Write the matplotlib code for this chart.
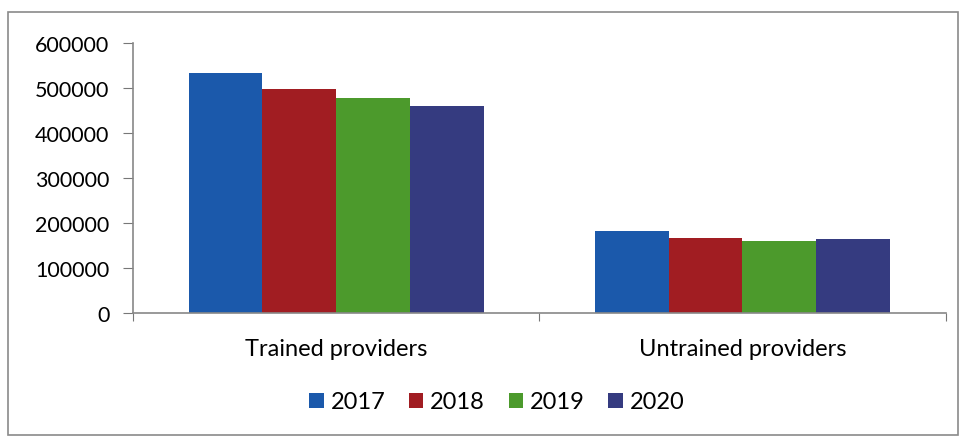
import numpy as np
import matplotlib.pyplot as plt
from matplotlib.patches import Rectangle

categories = ['Trained providers', 'Untrained providers']
years = ['2017', '2018', '2019', '2020']
values_2017 = [534000, 181000]
values_2018 = [497000, 167000]
values_2019 = [477000, 159000]
values_2020 = [460000, 164000]
colors = ['#1b59ab', '#a11d22', '#4c9a2c', '#353b80']

plt.rcParams['font.family'] = ['Lato', 'DejaVu Sans']

fig = plt.figure(figsize=(9.63, 4.39), dpi=100)
ax = fig.add_axes([0.138, 0.285, 0.844, 0.615])

# outer chart frame
fig.patches.append(Rectangle((8 / 963, 1 - 436 / 439), 950 / 963, 423 / 439,
                             transform=fig.transFigure, fill=False,
                             edgecolor='#8a8a8a', linewidth=1.2))

x = np.arange(len(categories))
width = 0.1815
series = [values_2017, values_2018, values_2019, values_2020]
for i, (vals, yr, c) in enumerate(zip(series, years, colors)):
    ax.bar(x + (i - 1.5) * width, vals, width, color=c, label=yr)

ax.set_xlim(-0.5, 1.5)
ax.set_ylim(0, 600000)
ax.set_yticks(range(0, 600001, 100000))
ax.set_yticklabels([str(v) for v in range(0, 600001, 100000)], fontsize=15.5)

ax.set_xticks([-0.5, 0.5, 1.5])
ax.set_xticklabels([])
ax.set_xticks(x, minor=True)
ax.set_xticklabels(categories, minor=True, fontsize=17)
ax.tick_params(axis='x', which='minor', length=0, pad=18)
ax.tick_params(axis='x', which='major', length=6, color='#777777')
ax.tick_params(axis='y', length=7, color='#777777', pad=10)

for s in ['top', 'right']:
    ax.spines[s].set_visible(False)
for s in ['left', 'bottom']:
    ax.spines[s].set_color('#888888')
    ax.spines[s].set_linewidth(1.2)

fig.legend(loc='center', bbox_to_anchor=(0.516, 1 - 403 / 439), ncol=4,
           frameon=False, fontsize=17, handlelength=0.6, handleheight=0.6,
           handletextpad=0.3, columnspacing=1.0)

fig.savefig('out.png', dpi=100)
